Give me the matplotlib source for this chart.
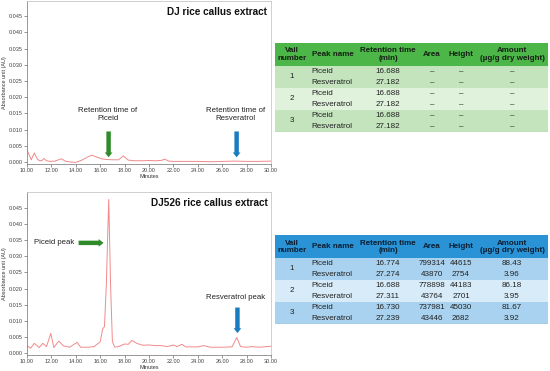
import matplotlib
matplotlib.use("Agg")
import matplotlib.pyplot as plt
from matplotlib.patches import Rectangle
from matplotlib.ticker import MultipleLocator, FormatStrFormatter

plt.rcParams['font.family'] = ['Liberation Sans', 'DejaVu Sans']

# ---- chromatogram data (minutes, AU) ----
dj_t = [10.0, 10.15, 10.35, 10.6, 10.85, 11.0, 11.2, 11.4, 11.6, 11.9, 12.3, 12.8, 13.2, 13.6, 14.0,
        14.5, 15.0, 15.3, 15.7, 16.1, 16.5, 17.0, 17.5, 17.9, 18.3, 18.8, 19.5, 20.0, 20.5, 21.0,
        21.3, 21.6, 22.0, 23.0, 24.0, 25.0, 26.0, 27.0, 28.0, 29.0, 30.0]
dj_v = [0.0037, 0.0025, 0.0007, 0.0028, 0.0009, 0.0005, 0.0004, 0.0011, 0.0004, 0.0002, 0.0003, 0.0010, 0.0002, 0.0000, -0.0001,
        0.0006, 0.0016, 0.0021, 0.0016, 0.0010, 0.0008, 0.0007, 0.0007, 0.0019, 0.0006, 0.0004, 0.0004, 0.0005, 0.0004, 0.0005,
        0.0009, 0.0003, 0.0002, 0.0002, 0.0002, 0.0001, 0.0002, 0.0003, 0.0002, 0.0002, 0.0003]

dj526_t = [10.0, 10.3, 10.6, 11.0, 11.3, 11.6, 11.95, 12.2, 12.6, 13.0, 13.5, 14.1, 14.4, 15.0, 15.5, 16.0,
           16.2, 16.35, 16.5, 16.7, 16.85, 17.0, 17.2, 17.5, 18.0, 18.3, 18.6, 19.0, 19.5, 20.0, 20.5,
           21.0, 21.5, 22.0, 22.3, 22.7, 23.0, 24.0, 24.5, 25.0, 26.0, 26.8, 27.2, 27.5, 28.0, 28.5, 29.0, 30.0]
dj526_v = [0.0024, 0.0016, 0.0031, 0.0018, 0.0031, 0.0021, 0.0062, 0.0018, 0.0038, 0.0023, 0.0019, 0.0034, 0.0019, 0.0019, 0.0021, 0.0036,
           0.0075, 0.0083, 0.0210, 0.0475, 0.0210, 0.0036, 0.0019, 0.0021, 0.0029, 0.0028, 0.0040, 0.0031, 0.0025, 0.0026, 0.0024,
           0.0024, 0.0021, 0.0026, 0.0021, 0.0028, 0.0020, 0.0020, 0.0024, 0.0019, 0.0019, 0.0020, 0.0049, 0.0021, 0.0019, 0.0021, 0.0019, 0.0022]

# ---- table data ----
col_headers = ["Vail\nnumber", "Peak name", "Retention time\n(min)", "Area", "Height", "Amount\n(\u00b5g/g dry weight)"]
vails = ["1", "2", "3"]
peak_names = ["Piceid", "Resveratrol"] * 3
dj_rt = ["16.688", "27.182", "16.688", "27.182", "16.688", "27.182"]
dj_area = ["\u2013"] * 6
dj_height = ["\u2013"] * 6
dj_amount = ["\u2013"] * 6
dj526_rt = ["16.774", "27.274", "16.688", "27.311", "16.730", "27.239"]
dj526_area = ["799314", "43870", "778898", "43764", "737981", "43446"]
dj526_height = ["44615", "2754", "44183", "2701", "45030", "2682"]
dj526_amount = ["88.43", "3.96", "86.18", "3.95", "81.67", "3.92"]

W, H = 550, 371
fig = plt.figure(figsize=(5.5, 3.71), dpi=100)

line_col = '#f08a8a'
grey = '#c8c8c8'


def chrom_axes(box, t, v, ylim, title):
    x0, y0, x1, y1 = box
    ax = fig.add_axes([x0 / W, (H - y1) / H, (x1 - x0) / W, (y1 - y0) / H])
    ax.plot(t, v, color=line_col, lw=0.7)
    ax.set_xlim(10, 30)
    ax.set_ylim(*ylim)
    ax.xaxis.set_major_locator(MultipleLocator(2))
    ax.xaxis.set_minor_locator(MultipleLocator(0.5))
    ax.yaxis.set_major_locator(MultipleLocator(0.005))
    ax.xaxis.set_major_formatter(FormatStrFormatter('%.2f'))
    ax.yaxis.set_major_formatter(FormatStrFormatter('%.3f'))
    ax.tick_params(labelsize=4, length=2, width=0.4, pad=1, colors='#444444')
    ax.tick_params(which='minor', length=1, width=0.3, colors='#444444')
    for s in ax.spines.values():
        s.set_color(grey)
        s.set_linewidth(0.6)
    ax.spines['bottom'].set_color('#888888')
    ax.spines['left'].set_color('#888888')
    ax.set_xlabel('Minutes', fontsize=4, labelpad=0.5, color='#333333')
    ax.set_ylabel('Absorbance unit (AU)', fontsize=4, labelpad=1, color='#333333')
    ax.text(0.985, 0.965, title, transform=ax.transAxes, ha='right', va='top',
            fontsize=7.2, fontweight='bold', color='#111111')
    return ax


ax1 = chrom_axes((27, 1, 271, 164), dj_t, dj_v, (-0.0006, 0.0497), 'DJ rice callus extract')
green = '#2f8a2a'
blue = '#1a7cc0'
arrow_style = 'simple,head_width=0.55,head_length=0.35,tail_width=0.32'
ax1.text(16.6, 0.0125, 'Retention time of\nPiceid', ha='center', va='bottom', fontsize=5.6, color='#222222', linespacing=1.1)
ax1.annotate('', xy=(16.688, 0.0006), xytext=(16.688, 0.0103),
             arrowprops=dict(arrowstyle=arrow_style, fc=green, ec=green, lw=0))
ax1.text(27.1, 0.0125, 'Retention time of\nResveratrol', ha='center', va='bottom', fontsize=5.6, color='#222222', linespacing=1.1)
ax1.annotate('', xy=(27.182, 0.0006), xytext=(27.182, 0.0103),
             arrowprops=dict(arrowstyle=arrow_style, fc=blue, ec=blue, lw=0))

ax2 = chrom_axes((27, 192, 271, 355), dj526_t, dj526_v, (-0.0005, 0.0498), 'DJ526 rice callus extract')
ax2.text(10.6, 0.0341, 'Piceid peak', ha='left', va='center', fontsize=5.6, color='#222222')
ax2.annotate('', xy=(16.5, 0.0341), xytext=(14.0, 0.0341),
             arrowprops=dict(arrowstyle=arrow_style, fc=green, ec=green, lw=0))
ax2.text(27.1, 0.0172, 'Resveratrol peak', ha='center', va='center', fontsize=5.6, color='#222222')
ax2.annotate('', xy=(27.25, 0.0054), xytext=(27.25, 0.0150),
             arrowprops=dict(arrowstyle=arrow_style, fc=blue, ec=blue, lw=0))


def table_axes(top, head_col, dark_col, light_col, rt, area, height, amount, head_txt):
    x0, x1 = 275, 548
    hh = 23
    rh = 11
    bottom = top + hh + 6 * rh
    ax = fig.add_axes([x0 / W, (H - bottom) / H, (x1 - x0) / W, (bottom - top) / H])
    ax.set_xlim(x0, x1)
    ax.set_ylim(bottom, top)
    ax.axis('off')
    ax.add_patch(Rectangle((x0, top), x1 - x0, hh, fc=head_col, ec='none'))
    for g in range(3):
        c = dark_col if g % 2 == 0 else light_col
        ax.add_patch(Rectangle((x0, top + hh + g * 2 * rh), x1 - x0, 2 * rh, fc=c, ec='none'))
    ax.plot([x0, x1], [bottom - 0.3, bottom - 0.3], color='#7a7a7a', lw=0.8)
    fs = 5.8
    centers = [292, None, 388, 432, 461, 512]
    hy = top + hh / 2
    for i, h in enumerate(col_headers):
        if i == 1:
            ax.text(311.5, hy, h, ha='left', va='center', fontsize=fs, fontweight='bold', color=head_txt, linespacing=1.0)
        else:
            ax.text(centers[i], hy, h, ha='center', va='center', fontsize=fs, fontweight='bold', color=head_txt, linespacing=1.0)
    for g, vv in enumerate(vails):
        ax.text(centers[0], top + hh + g * 2 * rh + rh, vv, ha='center', va='center', fontsize=fs, color='#222222')
    for r in range(6):
        y = top + hh + r * rh + rh / 2 + 0.3
        ax.text(311.5, y, peak_names[r], ha='left', va='center', fontsize=fs, color='#222222')
        ax.text(centers[2], y, rt[r], ha='center', va='center', fontsize=fs, color='#222222')
        ax.text(centers[3], y, area[r], ha='center', va='center', fontsize=fs, color='#222222')
        ax.text(centers[4], y, height[r], ha='center', va='center', fontsize=fs, color='#222222')
        ax.text(centers[5], y, amount[r], ha='center', va='center', fontsize=fs, color='#222222')
    return ax


table_axes(43, '#4cb748', '#c3e4bd', '#e0f1dc', dj_rt, dj_area, dj_height, dj_amount, '#142014')
table_axes(235, '#2a93d5', '#a8d2ef', '#d7ebf8', dj526_rt, dj526_area, dj526_height, dj526_amount, '#0c1e33')

fig.savefig('out.png', dpi=100)
